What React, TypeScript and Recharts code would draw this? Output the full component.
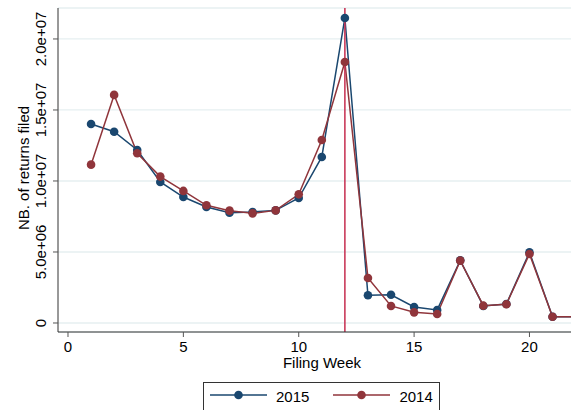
import React from "react"
import { LineChart, Line, XAxis, YAxis, CartesianGrid, ReferenceLine } from "recharts"

// Returns filed per filing week, two seasons
const weeks = [1, 2, 3, 4, 5, 6, 7, 8, 9, 10, 11, 12, 13, 14, 15, 16, 17, 18, 19, 20, 21, 22]
const filed2015 = [
  14010000, 13470000, 12180000, 9930000, 8870000, 8170000, 7770000, 7820000, 7930000, 8800000, 11690000,
  21480000, 1950000, 1990000, 1130000, 920000, 4410000, 1200000, 1340000, 4980000, 440000, 440000,
]
const filed2014 = [
  11150000, 16060000, 11950000, 10310000, 9300000, 8290000, 7910000, 7720000, 7930000, 9060000, 12890000,
  18380000, 3170000, 1200000, 750000, 630000, 4390000, 1220000, 1320000, 4860000, 440000, 440000,
]
const xTicks = [0, 5, 10, 15, 20]
const yTicks = [0, 5000000, 10000000, 15000000, 20000000]
const deadlineWeek = 12

const BLUE = "#1a476f"
const RED = "#90353b"
const FONT = "'Liberation Sans', Arial, sans-serif"
const FS = 15

const data = weeks.map((week, i) => ({ week, y2015: filed2015[i], y2014: filed2014[i] }))

// Stata-style exponent format: 5.0e+06
const fmtSci = (v: number) => (v === 0 ? "0" : v.toExponential(1).replace(/e([+-])(\d)$/, "e$10$2"))

const YTick = (props: any) => {
  const { x, y, payload } = props
  return (
    <text
      transform={`translate(${x}, ${y}) rotate(-90)`}
      textAnchor="middle"
      fontSize={FS}
      fontFamily={FONT}
      fill="#000"
    >
      {fmtSci(payload.value)}
    </text>
  )
}

const LegendKey = ({ color }: { color: string }) => (
  <svg width={57} height={10} style={{ display: "block" }}>
    <line x1={0} y1={5} x2={57} y2={5} stroke={color} strokeWidth={1.5} />
    <circle cx={28.5} cy={5} r={4.3} fill={color} />
  </svg>
)

export default function App() {
  return (
    <div style={{ position: "fixed", left: 0, top: 0, width: 571, height: 410, overflow: "hidden", background: "#fff" }}>
      <LineChart width={571} height={410} data={data} margin={{ top: 8, right: 0, bottom: 48, left: 0 }}>
        <CartesianGrid horizontal vertical={false} stroke="#e6eff1" strokeWidth={1.3} />
        <XAxis
          dataKey="week"
          type="number"
          domain={[-0.433, 21.8]}
          allowDataOverflow
          ticks={xTicks}
          height={30}
          tickSize={5}
          tickMargin={4}
          axisLine={{ stroke: "#333" }}
          tickLine={{ stroke: "#555" }}
          tick={{ fontSize: FS, fontFamily: FONT, fill: "#000" }}
          label={{
            content: () => (
              <text x={322} y={368} textAnchor="middle" fontSize={FS} fontFamily={FONT} fill="#000">
                Filing Week
              </text>
            ),
          }}
        />
        <YAxis
          type="number"
          domain={[-634000, 22180000]}
          allowDataOverflow
          ticks={yTicks}
          width={58}
          tickSize={5}
          tickMargin={7}
          axisLine={{ stroke: "#333" }}
          tickLine={{ stroke: "#555" }}
          tick={<YTick />}
          label={{
            content: () => (
              <text
                transform="translate(29, 168) rotate(-90)"
                textAnchor="middle"
                fontSize={FS}
                fontFamily={FONT}
                fill="#000"
              >
                NB. of returns filed
              </text>
            ),
          }}
        />
        <Line
          dataKey="y2015"
          stroke={BLUE}
          strokeWidth={1.5}
          dot={{ r: 4.3, fill: BLUE, stroke: "none" }}
          activeDot={false}
          isAnimationActive={false}
        />
        <Line
          dataKey="y2014"
          stroke={RED}
          strokeWidth={1.5}
          dot={{ r: 4.3, fill: RED, stroke: "none" }}
          activeDot={false}
          isAnimationActive={false}
        />
        <ReferenceLine x={deadlineWeek} stroke="#c93a5a" strokeWidth={1.6} ifOverflow="hidden" />
      </LineChart>

      <div
        style={{
          position: "absolute",
          left: 203,
          top: 382,
          width: 237,
          height: 32,
          border: "1px solid #333",
          boxSizing: "border-box",
          display: "flex",
          alignItems: "flex-start",
          paddingTop: 7,
          paddingLeft: 6,
          fontFamily: FONT,
          fontSize: FS,
          color: "#000",
          lineHeight: "16px",
        }}
      >
        <LegendKey color={BLUE} />
        <span style={{ marginLeft: 9, marginTop: -1 }}>2015</span>
        <span style={{ marginLeft: 24 }} />
        <LegendKey color={RED} />
        <span style={{ marginLeft: 9, marginTop: -1 }}>2014</span>
      </div>
    </div>
  )
}
